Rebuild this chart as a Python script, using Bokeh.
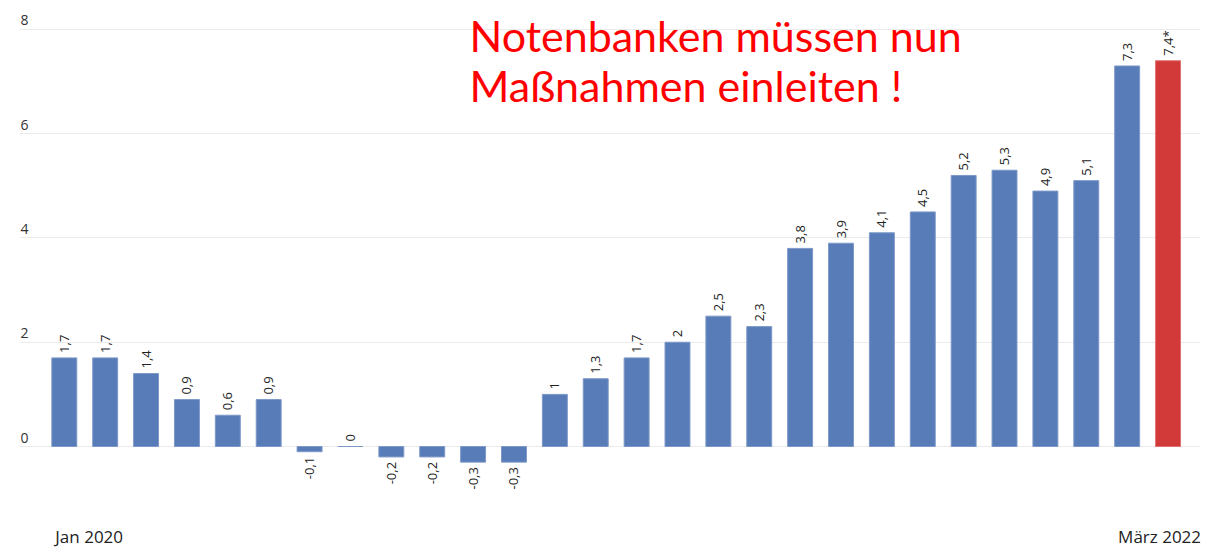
import math
from bokeh.plotting import figure
from bokeh.models import ColumnDataSource, Range1d, Label
from bokeh.core.properties import value
from bokeh.embed import file_html
from bokeh.resources import INLINE

# ---- data ----
values = [1.7, 1.7, 1.4, 0.9, 0.6, 0.9, -0.1, 0.0, -0.2, -0.2, -0.3, -0.3,
          1.0, 1.3, 1.7, 2.0, 2.5, 2.3, 3.8, 3.9, 4.1, 4.5, 5.2, 5.3,
          4.9, 5.1, 7.3, 7.4]
value_labels = ["1,7", "1,7", "1,4", "0,9", "0,6", "0,9", "-0,1", "0", "-0,2", "-0,2", "-0,3", "-0,3",
                "1", "1,3", "1,7", "2", "2,5", "2,3", "3,8", "3,9", "4,1", "4,5", "5,2", "5,3",
                "4,9", "5,1", "7,3", "7,4*"]
bar_colors = ["#587CB8"] * 27 + ["#D23A3A"]
y_ticks = [0, 2, 4, 6, 8]
y_tick_labels = ["0", "2", "4", "6", "8"]
first_label = "Jan 2020"
last_label = "März 2022"
headline = ["Notenbanken müssen nun", "Maßnahmen einleiten !"]

BLUE_EDGE = "#7D98C8"
RED_EDGE = "#E07070"

x = list(range(len(values)))

p = figure(width=1211, height=550, output_backend="svg", toolbar_location=None,
           min_border_left=19, min_border_right=11, min_border_top=0, min_border_bottom=0,
           x_range=Range1d(-1.096, 27.794), y_range=Range1d(-1.995, 8.556))
p.outline_line_color = None
p.xaxis.visible = False
p.yaxis.visible = False
p.xgrid.visible = False
p.ygrid.ticker = y_ticks
p.ygrid.grid_line_color = "#ebebeb"
p.ygrid.grid_line_width = 1
p.background_fill_color = "white"
p.border_fill_color = "white"

edge = [BLUE_EDGE] * 27 + [RED_EDGE]
src = ColumnDataSource(dict(x=x, top=values, color=bar_colors, edge=edge))
p.vbar(x="x", top="top", bottom=0, width=0.61, fill_color="color", line_color="edge",
       line_width=1, source=src)

# value labels
pos_x = [i for i, v in enumerate(values) if v >= 0]
pos_y = [values[i] for i in pos_x]
pos_t = [value_labels[i] for i in pos_x]
neg_x = [i for i, v in enumerate(values) if v < 0]
neg_y = [values[i] for i in neg_x]
neg_t = [value_labels[i] for i in neg_x]

p.text(x=pos_x, y=pos_y, text=pos_t, angle=math.pi / 2, text_align="left",
       text_baseline="middle", y_offset=-5, text_font=value("Open Sans"),
       text_font_size="13px", text_color="#222222")
p.text(x=neg_x, y=neg_y, text=neg_t, angle=math.pi / 2, text_align="right",
       text_baseline="middle", y_offset=5, text_font=value("Open Sans"),
       text_font_size="13px", text_color="#222222")

# y tick labels (above grid lines, left)
p.text(x=[-1.096] * len(y_ticks), y=y_ticks, text=y_tick_labels, text_align="left",
       text_baseline="bottom", x_offset=1, y_offset=-4, text_font=value("Open Sans"),
       text_font_size="14px", text_color="#333333")

# bottom labels
p.add_layout(Label(x=0, y=-1.73, text=first_label, text_align="left", text_baseline="middle",
                   x_offset=-9, text_font="Open Sans", text_font_size="17px",
                   text_color="#222222"))
p.add_layout(Label(x=27, y=-1.73, text=last_label, text_align="right", text_baseline="middle",
                   x_offset=33, text_font="Open Sans", text_font_size="17px",
                   text_color="#222222"))

# headline
for k, line in enumerate(headline):
    p.add_layout(Label(x=450, y=550 - 35 - 50 * k, x_units="screen", y_units="screen",
                       text=line, text_align="left", text_baseline="alphabetic",
                       text_font="Lato", text_font_size="43px", text_color="#FF0000"))

open("out.html", "w").write(file_html(p, INLINE))
